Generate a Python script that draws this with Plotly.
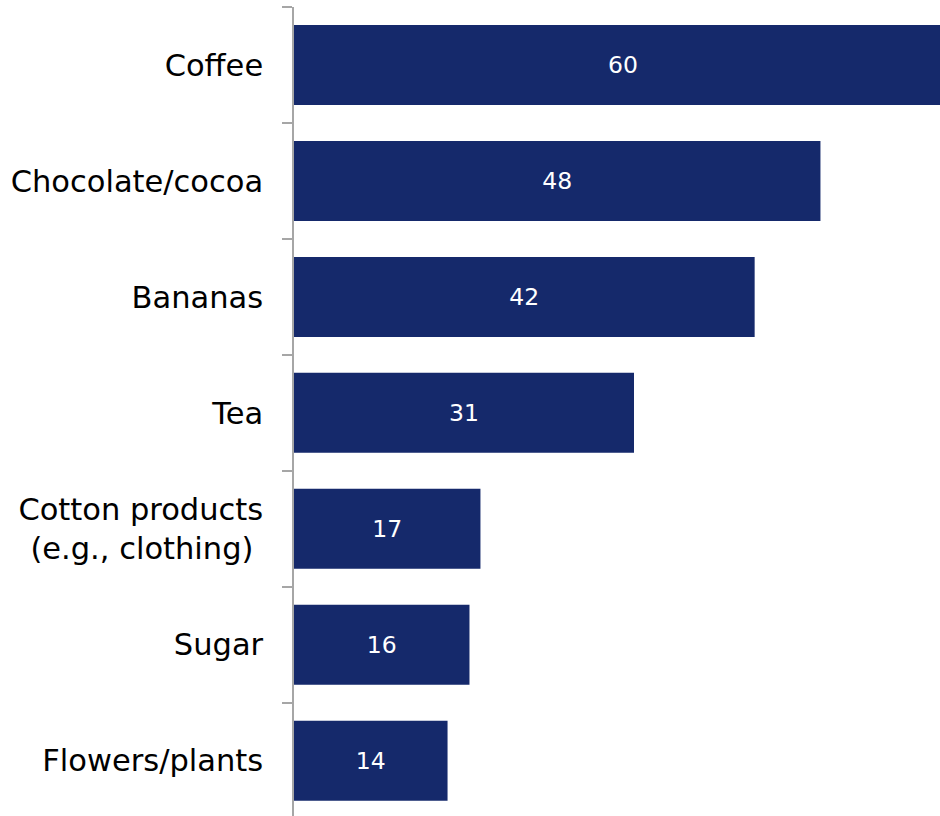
import plotly.graph_objects as go

# Products and the share for each (percent)
categories = [
    "Coffee",
    "Chocolate/cocoa",
    "Bananas",
    "Tea",
    "Cotton products<br>(e.g., clothing)\u00a0",
    "Sugar",
    "Flowers/plants",
]
values = [60, 48, 42, 31, 17, 16, 14]

BAR_COLOR = "#15296b"
AXIS_COLOR = "#a6a6a6"
FONT = "DejaVu Sans"

fig = go.Figure(
    go.Bar(
        x=values,
        y=categories,
        orientation="h",
        marker=dict(color=BAR_COLOR, line=dict(width=0)),
        width=0.69,
        text=[str(v) for v in values],
        textposition="inside",
        insidetextanchor="middle",
        textfont=dict(family=FONT, size=23.5, color="white"),
        constraintext="none",
        hoverinfo="skip",
    )
)

fig.update_layout(
    width=940,
    height=816,
    margin=dict(l=294, r=0, t=7, b=0),
    paper_bgcolor="white",
    plot_bgcolor="white",
    showlegend=False,
    font=dict(family=FONT, color="black"),
)

fig.update_xaxes(
    range=[0, 58.9],
    visible=False,
    showgrid=False,
    zeroline=False,
)

fig.update_yaxes(
    type="category",
    categoryorder="array",
    categoryarray=categories,
    range=[6.477, -0.5],
    showgrid=False,
    zeroline=False,
    showline=True,
    linecolor=AXIS_COLOR,
    linewidth=1.5,
    ticks="outside",
    tickson="boundaries",
    ticklen=10,
    tickwidth=1.5,
    tickcolor=AXIS_COLOR,
    tickfont=dict(family=FONT, size=30.5, color="black"),
    ticklabelstandoff=23,
)

fig.write_html("out.html")
